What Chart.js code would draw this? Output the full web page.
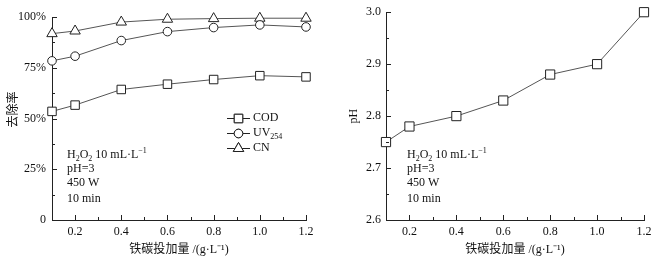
<!DOCTYPE html>
<html><head><meta charset="utf-8">
<script src="https://cdn.jsdelivr.net/npm/chart.js@4/dist/chart.umd.min.js"></script>
<style>
html,body{margin:0;padding:0;background:#fff;}
#wrap{position:relative;width:667px;height:264px;}
#c1{position:absolute;left:0;top:0;}
#c2{position:absolute;left:340px;top:0;}
</style></head>
<body><div id="wrap"><canvas id="c1" width="340" height="264"></canvas><canvas id="c2" width="327" height="264"></canvas></div>
<script>
// ---- data ----
const dosage = [0.1, 0.2, 0.4, 0.6, 0.8, 1.0, 1.2];
const codRemoval = [53.5, 56.6, 64.3, 66.9, 69.2, 71.1, 70.5];
const uvRemoval = [78.4, 80.7, 88.4, 92.8, 94.8, 96.1, 95.1];
const cnRemoval = [91.8, 93.1, 97.5, 98.9, 99.2, 99.4, 99.4];
const phValues = [2.75, 2.78, 2.80, 2.83, 2.88, 2.90, 3.00];
const xTicks = [0.2, 0.4, 0.6, 0.8, 1.0, 1.2];
const xMinorTicks = [0.3, 0.5, 0.7, 0.9, 1.1];
const yTicksLeft = [0, 25, 50, 75, 100];
const yTickLabelsLeft = ['0', '25%', '50%', '75%', '100%'];
const yMinorLeft = [12.5, 37.5, 62.5, 87.5];
const yTicksRight = [2.6, 2.7, 2.8, 2.9, 3.0];
const yTickLabelsRight = ['2.6', '2.7', '2.8', '2.9', '3.0'];
const yMinorRight = [2.65, 2.75, 2.85, 2.95];
const seriesLabels = ['COD', 'UV_{254}', 'CN'];
const conditions = ['H_{2}O_{2} 10 mL·L^{−1}', 'pH=3', '450 W', '10 min'];
const xTitle = '铁碳投加量 /(g·L⁻¹)';

const SERIF = '"Liberation Serif","Times New Roman",serif';
const CJK = '"Liberation Serif","Noto Sans CJK SC",serif';
const AX = '#222';

function pts(ys){ return dosage.map((x,i)=>({x:x,y:ys[i]})); }

// draw text with _{sub} and ^{sup} markup
function richText(ctx, str, x, y){
  const re = /([_^])\{([^}]*)\}/g;
  let last = 0, m, cx = x;
  const segs = [];
  while((m = re.exec(str))){ if(m.index>last) segs.push({t:str.slice(last,m.index),k:''}); segs.push({t:m[2],k:m[1]}); last = re.lastIndex; }
  if(last<str.length) segs.push({t:str.slice(last),k:''});
  ctx.textBaseline='middle'; ctx.textAlign='left';
  segs.forEach(s=>{
    if(s.k===''){ ctx.font='12px '+SERIF; ctx.fillText(s.t,cx,y); }
    else { ctx.font='8px '+SERIF; ctx.fillText(s.t,cx,y+(s.k==='_'?4:-4)); }
    cx += ctx.measureText(s.t).width;
  });
}

const tickPlugin = {
  id:'inTicks',
  afterDraw(chart, args, opts){
    const ctx = chart.ctx, xs = chart.scales.x, ys = chart.scales.y, ca = chart.chartArea;
    ctx.save(); ctx.strokeStyle = AX; ctx.lineWidth = 1;
    const line=(x1,y1,x2,y2)=>{ctx.beginPath();ctx.moveTo(x1,y1);ctx.lineTo(x2,y2);ctx.stroke();};
    xTicks.forEach(v=>{const p=Math.round(xs.getPixelForValue(v))+0.5; line(p,ca.bottom,p,ca.bottom-5);});
    xMinorTicks.forEach(v=>{const p=Math.round(xs.getPixelForValue(v))+0.5; line(p,ca.bottom,p,ca.bottom-3);});
    opts.major.forEach(v=>{const p=Math.round(ys.getPixelForValue(v))+0.5; line(ca.left,p,ca.left+5,p);});
    opts.minor.forEach(v=>{const p=Math.round(ys.getPixelForValue(v))+0.5; line(ca.left,p,ca.left+3,p);});
    ctx.restore();
  }
};

const notePlugin = {
  id:'notes',
  afterDraw(chart, args, opts){
    const ctx = chart.ctx, ca = chart.chartArea;
    ctx.save(); ctx.fillStyle = '#111';
    const rows=[155,169,183,199];
    conditions.forEach((t,i)=>richText(ctx, t, ca.left + opts.dx, rows[i]));
    ctx.restore();
  }
};

const legendPlugin = {
  id:'lineLegend',
  afterDraw(chart){
    const ctx = chart.ctx;
    ctx.save();
    const rows=[118,133,148];
    chart.data.datasets.forEach((ds,i)=>{
      const y=rows[i];
      ctx.strokeStyle=AX; ctx.lineWidth=1;
      ctx.beginPath(); ctx.moveTo(227,y+0.5); ctx.lineTo(250,y+0.5); ctx.stroke();
      Chart.helpers.drawPoint(ctx,{pointStyle:ds.pointStyle,radius:ds.pointRadius,borderWidth:1,rotation:0},238.5,y+0.5);
      ctx.fillStyle='#fff'; ctx.fill(); ctx.stroke();
      ctx.fillStyle='#111';
      richText(ctx, ds.label, 253, y);
    });
    ctx.restore();
  }
};

function xScale(){
  return {
    type:'linear', min:0.1, max:1.2,
    afterBuildTicks(s){ s.ticks = xTicks.map(v=>({value:v})); },
    afterFit(s){ s.height = 44; },
    grid:{drawOnChartArea:false, drawTicks:false},
    border:{display:true,color:AX,width:1},
    ticks:{padding:5,color:'#111',font:{family:SERIF,size:12},maxRotation:0,autoSkip:false,
      callback:(v)=>Number(v).toFixed(1)},
    title:{display:true,text:xTitle,color:'#111',font:{family:CJK,size:12},padding:{top:0,bottom:7}}
  };
}

function ds(label, data, style, radius){
  return {label, data, pointStyle:style, pointRadius:radius, pointHoverRadius:radius,
    borderColor:'#555', borderWidth:1, pointBorderColor:'#222', pointBackgroundColor:'#fff', pointBorderWidth:1,
    showLine:true, tension:0, clip:false};
}

new Chart(document.getElementById('c1'), {
  type:'scatter',
  data:{datasets:[
    ds(seriesLabels[0], pts(codRemoval), 'rect', 6),
    ds(seriesLabels[1], pts(uvRemoval), 'circle', 4.3),
    ds(seriesLabels[2], pts(cnRemoval), 'triangle', 6)
  ]},
  options:{
    responsive:false, animation:false, events:[],
    layout:{padding:{left:0,top:17,right:34,bottom:0}},
    plugins:{legend:{display:false},tooltip:{enabled:false},
      inTicks:{major:yTicksLeft,minor:yMinorLeft}, notes:{dx:15}},
    scales:{
      x:xScale(),
      y:{type:'linear',min:0,max:100,
        afterBuildTicks(s){ s.ticks = yTicksLeft.map(v=>({value:v})); },
        afterFit(s){ s.width = 52; },
        grid:{drawOnChartArea:false,drawTicks:false},
        border:{display:true,color:AX,width:1},
        ticks:{padding:6,color:'#111',font:{family:SERIF,size:12},
          callback:(v)=>yTickLabelsLeft[yTicksLeft.indexOf(v)]},
        title:{display:true,text:'\u3000\u2002去除率',color:'#111',font:{family:'"Noto Sans CJK SC",sans-serif',size:12},padding:{top:5,bottom:0}}
      }
    }
  },
  plugins:[tickPlugin, notePlugin, legendPlugin]
});

new Chart(document.getElementById('c2'), {
  type:'scatter',
  data:{datasets:[ ds('pH', pts(phValues), 'rect', 6.5) ]},
  options:{
    responsive:false, animation:false, events:[],
    layout:{padding:{left:0,top:11,right:23,bottom:0}},
    plugins:{legend:{display:false},tooltip:{enabled:false},
      inTicks:{major:yTicksRight,minor:yMinorRight}, notes:{dx:21}},
    scales:{
      x:xScale(),
      y:{type:'linear',min:2.6,max:3.0,
        afterBuildTicks(s){ s.ticks = yTicksRight.map(v=>({value:v})); },
        afterFit(s){ s.width = 46; },
        grid:{drawOnChartArea:false,drawTicks:false},
        border:{display:true,color:AX,width:1},
        ticks:{padding:5,color:'#111',font:{family:SERIF,size:12},
          callback:(v)=>yTickLabelsRight[yTicksRight.findIndex(t=>Math.abs(t-v)<1e-9)]},
        title:{display:true,text:'pH',color:'#111',font:{family:SERIF,size:12},padding:{top:7,bottom:0}}
      }
    }
  },
  plugins:[tickPlugin, notePlugin]
});
</script></body></html>
